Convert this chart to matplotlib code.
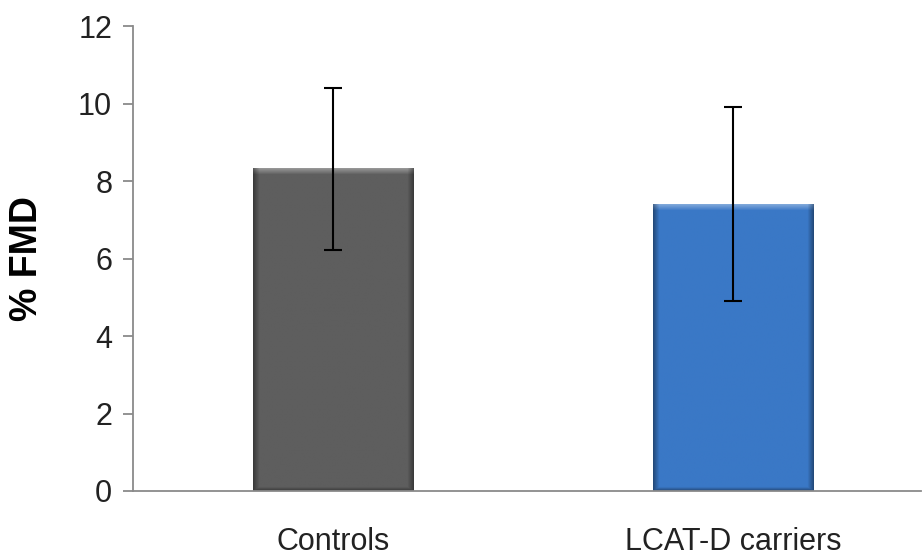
import numpy as np
import matplotlib
matplotlib.use("Agg")
import matplotlib.pyplot as plt
from matplotlib.colors import to_rgb

groups = ["Controls", "LCAT-D carriers"]
fmd_mean = [8.32, 7.41]
fmd_err = [2.1, 2.5]
bar_colors = ["#5e5e5e", "#3a78c6"]
y_ticks = [0, 2, 4, 6, 8, 10, 12]

plt.rcParams["font.family"] = ["Liberation Sans", "DejaVu Sans"]


def bevel_image(color, nx, ny, edge=6):
    """Shaded RGB array giving a bar a bevelled look (dark sides, light top)."""
    base = np.array(to_rgb(color))
    x = np.arange(nx)
    y = np.arange(ny)
    dx = np.minimum(x, nx - 1 - x)[None, :]
    dy_top = y[:, None]
    dy_bot = (ny - 1 - y)[:, None]
    side = np.clip(1 - dx / edge, 0, 1)
    top = np.clip(1 - dy_top / edge, 0, 1)
    bot = np.clip(1 - dy_bot / (edge * 0.6), 0, 1)
    img = np.ones((ny, nx, 3)) * base
    dark = np.maximum(side, bot)[..., None]
    img = img * (1 - 0.38 * dark)
    light = (top * (1 - 0.5 * side))[..., None]
    img = img + (1 - img) * 0.35 * light
    return np.clip(img, 0, 1)


fig = plt.figure(figsize=(9.23, 5.57), dpi=100)
ax = fig.add_axes([0.1441, 0.1185, 0.854, 0.834])

x = np.arange(len(groups))
bars = ax.bar(x, fmd_mean, width=0.40, color=bar_colors, zorder=2)

# overlay a bevel shading on each bar
for bar, col in zip(bars, bar_colors):
    x0, w, h = bar.get_x(), bar.get_width(), bar.get_height()
    img = bevel_image(col, 160, max(int(h * 38.6), 2))
    ax.imshow(img, extent=[x0, x0 + w, 0, h], aspect="auto",
              origin="upper", zorder=2.5, interpolation="bilinear")

ax.errorbar(x, fmd_mean, yerr=fmd_err, fmt="none", ecolor="black",
            elinewidth=1.5, capsize=6.5, capthick=1.5, zorder=3)

ax.set_xlim(-0.5, 1.47)
ax.set_ylim(0, 12)
ax.set_yticks(y_ticks)
ax.set_xticks(x)
ax.set_xticklabels(groups)

ax.spines["top"].set_visible(False)
ax.spines["right"].set_visible(False)
for side in ["left", "bottom"]:
    ax.spines[side].set_color("#8a8a8a")
    ax.spines[side].set_linewidth(1.3)

ax.tick_params(axis="y", direction="out", length=7, width=1.3,
               color="#8a8a8a", labelsize=22, labelcolor="#222222", pad=8)
ax.tick_params(axis="x", length=0, labelsize=22, labelcolor="#222222", pad=26)

ax.set_ylabel("% FMD", fontsize=27, fontweight="bold")
ax.yaxis.set_label_coords(-0.1117, 0.5)

fig.savefig("out.png", dpi=100)
